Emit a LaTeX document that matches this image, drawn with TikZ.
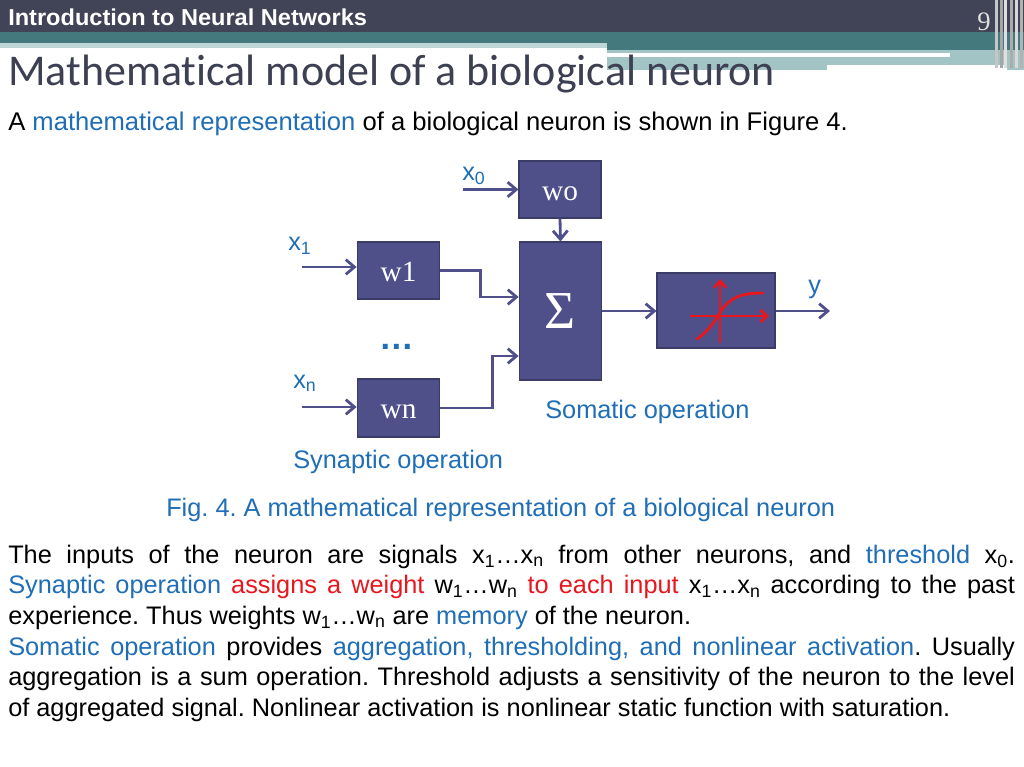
\documentclass[tikz,border=0pt]{standalone}
\usepackage{fontspec}
\setmainfont{Liberation Sans}
\newfontfamily\titlefont[Ligatures=NoCommon]{Carlito}
\newfontfamily\blkfont{Liberation Serif}
\usepackage{xcolor}
\usetikzlibrary{arrows.meta, calc, positioning}
\frenchspacing

\definecolor{hdrdark}{HTML}{414357}
\definecolor{hdrteal}{HTML}{44797D}
\definecolor{hdrlight}{HTML}{A3C4C5}
\definecolor{ttlgray}{HTML}{3D3F52}
\definecolor{txtblue}{HTML}{1F6EB6}
\definecolor{txtred}{HTML}{E8161D}
\definecolor{blkfill}{HTML}{4F5089}
\definecolor{blkline}{HTML}{3A3B66}

\newcommand{\bl}[1]{\textcolor{txtblue}{#1}}
\newcommand{\rd}[1]{\textcolor{txtred}{#1}}
\newcommand{\sbs}[1]{\textsubscript{#1}}
\newcommand{\fullline}[1]{\makebox[755pt][s]{#1}}

\begin{document}
\begin{tikzpicture}[x=0.75pt, y=-0.75pt,
  blk/.style={draw=blkline, fill=blkfill, line width=0.8pt, text=white, inner sep=0pt,
    font=\blkfont\fontsize{22}{22}\selectfont, text height=15.8pt, text depth=0pt},
  arr/.style={draw=blkfill, line width=2.1pt, -{Straight Barb[length=6.5pt, width=11pt]}},
  redarr/.style={draw=txtred, line width=2.1pt, -{Straight Barb[length=5pt, width=9pt]}},
  lbl/.style={text=txtblue, inner sep=0pt, anchor=base west, font=\fontsize{19}{23}\selectfont}]

\useasboundingbox (0,0) rectangle (1024,767);
\fill[white] (0,0) rectangle (1024,767);

% Header bands
\fill[hdrdark] (0,0) rectangle (1024,32);
\fill[hdrteal] (0,32) rectangle (1024,43);
\fill[hdrteal] (607,43) rectangle (1024,50);
\fill[hdrlight!70] (0,43) rectangle (607,48);
\fill[hdrlight] (607,50) rectangle (1024,70);
\fill[white] (607,53) rectangle (950,57);
\fill[white] (827,65) rectangle (1007,72);
\foreach \sx/\sc in {995/gray!45, 1000/gray!70, 1004/gray!25, 1010/gray!65, 1015/gray!30, 1020/gray!60}
  \fill[\sc] (\sx,0) rectangle ++(3,68);

\node[anchor=base west, inner sep=0pt, text=white] (hdr) at (8,26)
  {\resizebox{269pt}{12.5pt}{\bfseries Introduction to Neural Networks}};
\node[anchor=base east, inner sep=0pt, text=gray!25] (pgno) at (991,31)
  {\blkfont\fontsize{20}{20}\selectfont 9};

% Title and intro line
\node[anchor=base west, inner sep=0pt, text=ttlgray] (title) at (8,85)
  {\resizebox{575pt}{!}{\titlefont Mathematical model of a biological neuron}};
\node[anchor=base west, inner sep=0pt, font=\fontsize{19.2}{23}\selectfont] (intro) at (8,130)
  {A \bl{mathematical representation} of a biological neuron is shown in Figure 4.};

% Blocks
\node[blk, minimum width=61.5pt, minimum height=42.75pt] (w0) at (560,189.5) {wo};
\node[blk, minimum width=62pt, minimum height=42.75pt] (w1) at (398.5,270.5) {w1};
\node[blk, minimum width=62pt, minimum height=43.5pt] (wn) at (398.5,408) {wn};
\node[blk, minimum width=62pt, minimum height=103.5pt, text height=25.5pt,
  font=\blkfont\fontsize{40}{40}\selectfont] (sum) at (560.5,311) {Σ};
\node[blk, minimum width=88.5pt, minimum height=56.25pt] (act) at (716,310.5) {};

% Inputs and output
\coordinate (in0) at (463,189.5);
\coordinate (in1) at (302,267);
\coordinate (inn) at (302,407);
\coordinate (out) at (830,311);
\node[lbl] (x0) at (462,180) {x\sbs{0}};
\node[lbl] (x1) at (288,250) {x\sbs{1}};
\node[lbl] (xn) at (293,388) {x\sbs{n}};
\node[lbl] (yl) at (808,293) {y};
\node[text=txtblue, inner sep=0pt, anchor=base] (dots) at (397,349)
  {\fontsize{26}{26}\selectfont\bfseries …};

% Connectors
\draw[arr] (in0) -- (w0.west);
\draw[arr] (in1) -- (in1 -| w1.west);
\draw[arr] (inn) -- (inn -| wn.west);
\draw[arr] (w0.south) -- (sum.north);
\draw[arr] (w1.east) -- ++(40,0) |- ([yshift=10.5pt]sum.west);
\draw[arr] (wn.east) -- ++(52,0) |- ([yshift=-33.75pt]sum.west);
\draw[arr] (sum.east) -- (sum.east -| act.west);
\draw[arr] (act.east |- out) -- (out);

% Activation curve
\draw[redarr] (690,316) -- (769,316);
\draw[redarr] (720,343) -- (720,279);
\draw[draw=txtred, line width=2.1pt, line cap=round] (697,339)
  .. controls (710,330) and (715,320) .. (721,311)
  .. controls (730,298) and (740,293) .. (763,293);

% Labels
\node[lbl] (soma) at (545,418) {Somatic operation};
\node[lbl] (syna) at (293,468) {Synaptic operation};
\node[lbl] (cap) at (166,516) {Fig. 4. A mathematical representation of a biological neuron};

% Body text
\node[anchor=base west, inner sep=0pt, font=\fontsize{19}{23}\selectfont] (body) at (8,563)
  {\parbox[t]{755pt}{%
  \fullline{The inputs of the neuron are signals x\sbs{1}…x\sbs{n} from other neurons, and \bl{threshold} x\sbs{0}.}\\
  \fullline{\bl{Synaptic operation} \rd{assigns a weight} w\sbs{1}…w\sbs{n} \rd{to each input} x\sbs{1}…x\sbs{n} according to the past}\\
  experience. Thus weights w\sbs{1}…w\sbs{n} are \bl{memory} of the neuron.\\
  \fullline{\bl{Somatic operation} provides \bl{aggregation, thresholding, and nonlinear activation}. Usually}\\
  \fullline{aggregation is a sum operation. Threshold adjusts a sensitivity of the neuron to the level}\\
  of aggregated signal. Nonlinear activation is nonlinear static function with saturation.}};

\end{tikzpicture}
\end{document}
